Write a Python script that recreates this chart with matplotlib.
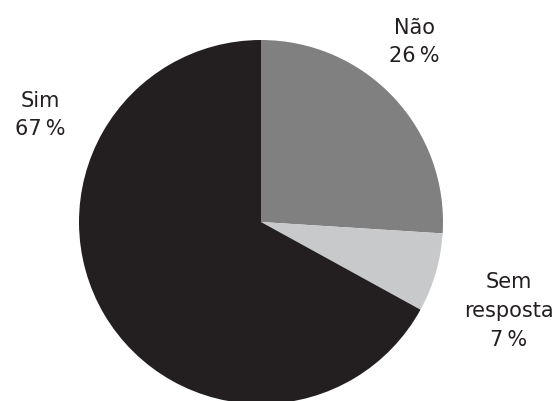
import matplotlib
matplotlib.use("Agg")
import matplotlib.pyplot as plt

labels = ["Não", "Sem\nresposta", "Sim"]
values = [26, 7, 67]
colors = ["#808080", "#c8c9cb", "#231f20"]
pct_labels = ["26\u2009%", "7\u2009%", "67\u2009%"]

W, H = 558, 401
fig = plt.figure(figsize=(W / 100, H / 100), dpi=100)
cx, cy, r = 261, 222, 182
ax = fig.add_axes([(cx - r) / W, (H - cy - r) / H, 2 * r / W, 2 * r / H])
ax.pie(values, colors=colors, startangle=90, counterclock=False, radius=1,
       wedgeprops=dict(linewidth=0))
ax.set_xlim(-1, 1)
ax.set_ylim(-1, 1)
ax.set_aspect("equal")
ax.axis("off")

font = dict(fontsize=15, color="#231f20", family="DejaVu Sans", ha="center",
            va="center", linespacing=1.55)
positions = [(414, 42), (509, 311), (40, 115)]
for (x, y), lab, p in zip(positions, labels, pct_labels):
    fig.text(x / W, 1 - y / H, lab + "\n" + p, **font)

fig.savefig("out.png", dpi=100)
